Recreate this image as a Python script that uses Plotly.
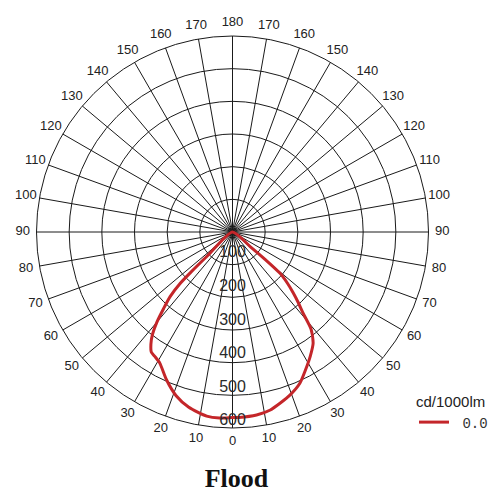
import plotly.graph_objects as go

# Luminous intensity (cd/1000lm)
right_deg = [0, 2, 7.5, 12, 15.5, 19.5, 24, 28, 32, 36, 39, 41, 43, 45, 47, 49, 50, 50.5, 51]
right_cd = [568, 568, 565, 557, 544, 529, 507, 477, 449, 420, 382, 330, 295, 262, 230, 193, 130, 70, 0]
left_deg = [4, 8, 14, 19, 24, 29, 32, 34, 36, 38, 40, 42, 44, 45.5, 46, 46.5, 47]
left_cd = [571, 569, 553, 530, 496, 459, 449, 444, 425, 398, 360, 315, 275, 225, 180, 100, 0]

radial_ticks = [100, 200, 300, 400, 500, 600]
angle_ticks = list(range(0, 360, 10))
angle_labels = [str(min(a, 360 - a)) for a in angle_ticks]
series_name = "0.0"
unit_label = "cd/1000lm"
title_text = "Flood"

theta = [d for d in reversed(right_deg)] + [-d for d in left_deg]
r = [v for v in reversed(right_cd)] + left_cd

RED = "#c4262a"
GRID = "#1a1a1a"
S = 493
RMAX = 600

fig = go.Figure()
fig.add_trace(go.Scatterpolar(
    r=r, theta=theta, mode="lines", name="\u00a0" + series_name,
    line=dict(color=RED, width=3, shape="spline", smoothing=0.6),
    showlegend=True,
))
# radial value labels placed just inside each ring, along the 0 degree spoke
fig.add_trace(go.Scatterpolar(
    r=[v * 1.03 - 38 for v in radial_ticks], theta=[0] * len(radial_ticks),
    mode="text", text=[str(v) for v in radial_ticks],
    textfont=dict(family="Liberation Sans, Arial", size=16, color="#2a2a2a"),
    textposition="middle center", showlegend=False, hoverinfo="skip",
))
# angle labels centred on each spoke outside the outer ring (on a larger, invisible polar)
fig.add_trace(go.Scatterpolar(
    r=[RMAX * 1.07] * len(angle_ticks), theta=angle_ticks, subplot="polar2",
    mode="text", text=angle_labels,
    textfont=dict(family="Liberation Sans, Arial", size=13, color="#222"),
    textposition="middle center", showlegend=False, hoverinfo="skip",
))

cx, cy, R = 232.5, 232, 196
R2 = 220
fig.update_layout(
    width=S, height=S,
    margin=dict(l=0, r=0, t=0, b=0),
    paper_bgcolor="white",
    polar=dict(
        domain=dict(x=[(cx - R) / S, (cx + R) / S], y=[(S - cy - R) / S, (S - cy + R) / S]),
        bgcolor="white",
        radialaxis=dict(range=[0, RMAX], tickvals=radial_ticks, showticklabels=False,
                        ticks="", showline=False, gridcolor=GRID, gridwidth=1),
        angularaxis=dict(rotation=270, direction="counterclockwise",
                         tickvals=angle_ticks, showticklabels=False, ticks="",
                         showline=True, linecolor=GRID, linewidth=1,
                         gridcolor=GRID, gridwidth=1),
    ),
    polar2=dict(
        domain=dict(x=[(cx - R2) / S, (cx + R2) / S], y=[(S - cy - R2) / S, (S - cy + R2) / S]),
        bgcolor="rgba(0,0,0,0)",
        radialaxis=dict(range=[0, RMAX * R2 / R], showticklabels=False, ticks="",
                        showline=False, showgrid=False),
        angularaxis=dict(rotation=270, direction="counterclockwise",
                         showticklabels=False, ticks="", showline=False, showgrid=False),
    ),
    showlegend=True,
    legend=dict(x=1, y=1 - 387 / S, xanchor="right", yanchor="top",
                title=dict(text=unit_label, side="top",
                           font=dict(family="Liberation Sans, Arial", size=15, color="#222")),
                font=dict(family="Liberation Mono, monospace", size=14, color="#333"),
                bgcolor="rgba(0,0,0,0)"),
    title=dict(text="<b>" + title_text + "</b>", x=236.5 / S, xanchor="center",
               y=1 - 478 / S, yanchor="middle", yref="container",
               font=dict(family="Liberation Serif, Times New Roman", size=26, color="#111")),
)

fig.write_html("out.html", config={"displayModeBar": False},
               post_script="document.body.style.margin='0';document.body.style.overflow='hidden';")
